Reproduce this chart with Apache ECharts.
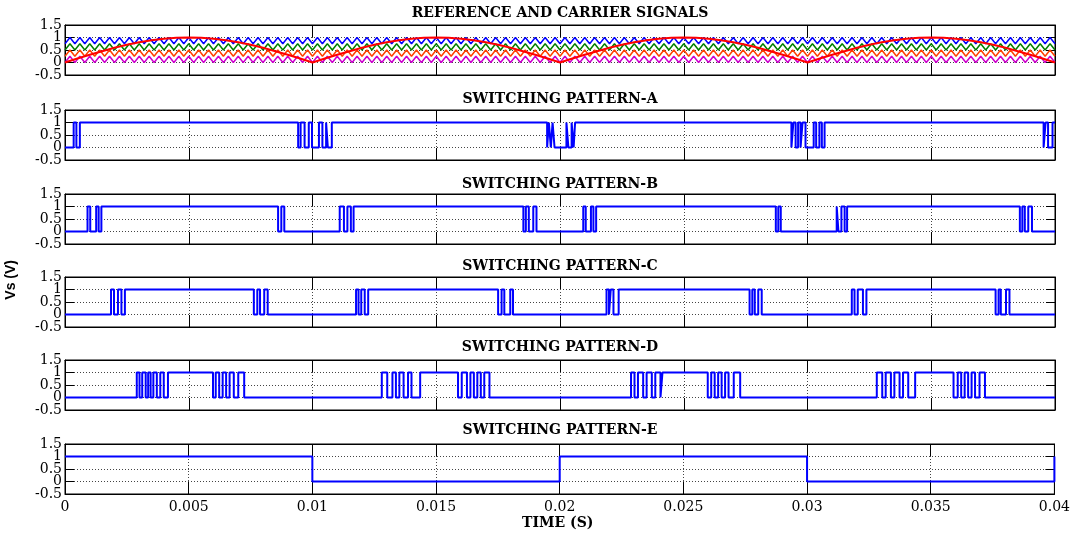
<!DOCTYPE html>
<html>
<head>
<meta charset="utf-8">
<script src="https://cdn.jsdelivr.net/npm/echarts@6/dist/echarts.min.js"></script>
<style>
  html, body { margin: 0; padding: 0; background: #fff; }
  #main { width: 1073px; height: 539px; }
</style>
</head>
<body>
<div id="main"></div>
<script>
// time in ms, x axis labelled in seconds
const timeTicksMs = [0, 5, 10, 15, 20, 25, 30, 35, 40];
const yTicks = [-0.5, 0, 0.5, 1, 1.5];

const panelTitles = [
  "REFERENCE AND CARRIER SIGNALS",
  "SWITCHING PATTERN-A",
  "SWITCHING PATTERN-B",
  "SWITCHING PATTERN-C",
  "SWITCHING PATTERN-D",
  "SWITCHING PATTERN-E",
];

// reference signal, sampled every 0.5 ms
const refStepMs = 0.5;
const refValues = [
  0, 0.16, 0.31, 0.45, 0.59, 0.71, 0.81, 0.89, 0.95, 0.99, 1, 0.99, 0.95, 0.89, 0.81, 0.71, 0.59, 0.45, 0.31, 0.16,
  0, 0.16, 0.31, 0.45, 0.59, 0.71, 0.81, 0.89, 0.95, 0.99, 1, 0.99, 0.95, 0.89, 0.81, 0.71, 0.59, 0.45, 0.31, 0.16,
  0, 0.16, 0.31, 0.45, 0.59, 0.71, 0.81, 0.89, 0.95, 0.99, 1, 0.99, 0.95, 0.89, 0.81, 0.71, 0.59, 0.45, 0.31, 0.16,
  0, 0.16, 0.31, 0.45, 0.59, 0.71, 0.81, 0.89, 0.95, 0.99, 1, 0.99, 0.95, 0.89, 0.81, 0.71, 0.59, 0.45, 0.31, 0.16,
  0,
];

// carrier vertices (ms), alternating low / high
const carrierTimesMs = [
  0, 0.2, 0.4, 0.6, 0.8, 1, 1.2, 1.4, 1.6, 1.8,
  2, 2.2, 2.4, 2.6, 2.8, 3, 3.2, 3.4, 3.6, 3.8,
  4, 4.2, 4.4, 4.6, 4.8, 5, 5.2, 5.4, 5.6, 5.8,
  6, 6.2, 6.4, 6.6, 6.8, 7, 7.2, 7.4, 7.6, 7.8,
  8, 8.2, 8.4, 8.6, 8.8, 9, 9.2, 9.4, 9.6, 9.8,
  10, 10.2, 10.4, 10.6, 10.8, 11, 11.2, 11.4, 11.6, 11.8,
  12, 12.2, 12.4, 12.6, 12.8, 13, 13.2, 13.4, 13.6, 13.8,
  14, 14.2, 14.4, 14.6, 14.8, 15, 15.2, 15.4, 15.6, 15.8,
  16, 16.2, 16.4, 16.6, 16.8, 17, 17.2, 17.4, 17.6, 17.8,
  18, 18.2, 18.4, 18.6, 18.8, 19, 19.2, 19.4, 19.6, 19.8,
  20, 20.2, 20.4, 20.6, 20.8, 21, 21.2, 21.4, 21.6, 21.8,
  22, 22.2, 22.4, 22.6, 22.8, 23, 23.2, 23.4, 23.6, 23.8,
  24, 24.2, 24.4, 24.6, 24.8, 25, 25.2, 25.4, 25.6, 25.8,
  26, 26.2, 26.4, 26.6, 26.8, 27, 27.2, 27.4, 27.6, 27.8,
  28, 28.2, 28.4, 28.6, 28.8, 29, 29.2, 29.4, 29.6, 29.8,
  30, 30.2, 30.4, 30.6, 30.8, 31, 31.2, 31.4, 31.6, 31.8,
  32, 32.2, 32.4, 32.6, 32.8, 33, 33.2, 33.4, 33.6, 33.8,
  34, 34.2, 34.4, 34.6, 34.8, 35, 35.2, 35.4, 35.6, 35.8,
  36, 36.2, 36.4, 36.6, 36.8, 37, 37.2, 37.4, 37.6, 37.8,
  38, 38.2, 38.4, 38.6, 38.8, 39, 39.2, 39.4, 39.6, 39.8,
  40,
];
const carrierNames = ["C1", "C2", "C3", "C4"];
const carrierLow = [0.75, 0.5, 0.25, 0];
const carrierHigh = [1, 0.75, 0.5, 0.25];
const carrierColors = ["#0000ff", "#008000", "#ff4000", "#cc00cc"];

// switching instants (ms); level toggles at each one
const patternStart = [0, 0, 0, 0, 1];
const patternA = [
  0.35, 0.46, 0.6,
  9.42, 9.52, 9.68, 9.85, 9.98, 10.26, 10.4, 10.55, 10.62, 10.78,
  19.48, 19.55, 19.63, 19.7, 19.78, 20.26, 20.34, 20.47, 20.55, 20.61,
  29.35, 29.43, 29.52, 29.62, 29.72, 29.8, 29.92, 30.25, 30.35, 30.48, 30.58, 30.69,
  39.54, 39.62, 39.72, 39.9,
];
const patternB = [
  0.91, 1.02, 1.26, 1.36, 1.47,
  8.61, 8.74, 8.86,
  11.1, 11.27, 11.41, 11.55, 11.66,
  18.52, 18.62, 18.74, 18.92, 19.05,
  20.94, 21.04, 21.25, 21.35, 21.46,
  28.72, 28.82, 28.92,
  31.18, 31.25, 31.37, 31.5, 31.6,
  38.58, 38.68, 38.78, 38.92, 39.07,
];
const patternC = [
  1.86, 1.98, 2.14, 2.28, 2.42,
  7.63, 7.77, 7.88, 8.05, 8.19,
  11.76, 11.86, 11.97, 12.11, 12.25,
  17.5, 17.64, 17.75, 17.99, 18.1,
  21.88, 21.98, 22.05, 22.16, 22.37,
  27.66, 27.77, 27.87, 28.01, 28.15,
  31.79, 31.9, 32.03, 32.24, 32.38,
  37.6, 37.72, 37.81, 38.02, 38.16,
];
const patternD = [
  2.9, 3.01, 3.12, 3.26, 3.36, 3.46, 3.57, 3.71, 3.85, 3.99, 4.16,
  5.98, 6.09, 6.23, 6.37, 6.51, 6.65, 6.82, 7.0, 7.24,
  12.8, 13.02, 13.23, 13.37, 13.51, 13.68, 13.86, 14.0, 14.35,
  15.88, 16.03, 16.24, 16.38, 16.52, 16.66, 16.8, 16.94, 17.15,
  22.87, 23.01, 23.15, 23.36, 23.5, 23.71, 23.85, 24.06, 24.14,
  25.97, 26.11, 26.25, 26.39, 26.53, 26.67, 26.81, 27.02, 27.28,
  32.8, 33.02, 33.16, 33.37, 33.51, 33.72, 33.86, 34.07, 34.35,
  35.9, 36.07, 36.21, 36.35, 36.49, 36.63, 36.77, 36.95, 37.17,
];
const patternE = [10, 20, 30, 40];
const patterns = [patternA, patternB, patternC, patternD, patternE];

const chart = echarts.init(document.getElementById("main"));

const plotLeft = 65;
const plotRight = 18;
const gridTops = [25, 110, 194, 277, 360, 444];
const gridHeight = 50;
const titleCenters = [14, 100, 185, 267, 348, 431];

const serif = "DejaVu Serif";
const dotted = { color: "#444", width: 1, type: [1, 2] };
const yLabelStyle = { show: true, margin: 3, color: "#000", fontFamily: serif, fontSize: 14 };

function stepData(start, times) {
  const pts = [[0, start]];
  let v = start;
  times.forEach((t) => {
    v = 1 - v;
    pts.push([t, v]);
  });
  if (times[times.length - 1] < 40) pts.push([40, v]);
  return pts;
}

const grids = [];
const xAxes = [];
const yAxes = [];
const titles = [];
const mainX = [];
const mainY = [];
const noLine = { show: false };

gridTops.forEach((top, i) => {
  const last = i === gridTops.length - 1;
  const g = grids.length;
  grids.push({
    left: plotLeft, right: plotRight, top: top, height: gridHeight,
    show: true, borderColor: "#000", borderWidth: 1, backgroundColor: "#fff",
  });
  // helper grid, half a unit taller on each side, only used for the 0 / 1 labels
  const gAux = grids.length;
  grids.push({ left: plotLeft, right: plotRight, top: top - gridHeight / 4, height: gridHeight * 1.5 });

  const xBase = {
    type: "value", gridIndex: g, min: 0, max: 40, interval: 5,
    axisLine: { show: true, onZero: false, lineStyle: { color: "#000", width: 1 } },
    axisTick: { show: true, inside: true, length: 12, lineStyle: { color: "#000" } },
  };
  mainX.push(xAxes.length);
  xAxes.push(Object.assign({}, xBase, {
    position: "bottom",
    splitLine: { show: true, lineStyle: dotted },
    axisLabel: {
      show: last, margin: 6, color: "#000", fontFamily: serif, fontSize: 14,
      showMinLabel: true, showMaxLabel: true,
      formatter: (v) => String(+(v / 1000).toFixed(3)),
    },
  }));
  xAxes.push(Object.assign({}, xBase, {
    position: "top", splitLine: noLine, axisLabel: noLine,
  }));
  xAxes.push({ type: "value", gridIndex: gAux, min: 0, max: 40, show: false });

  const yBase = {
    type: "value", gridIndex: g, min: -0.5, max: 1.5, interval: 0.5,
    axisLine: { show: true, onZero: false, lineStyle: { color: "#000", width: 1 } },
    axisTick: { show: true, inside: true, length: 9, lineStyle: { color: "#000" } },
  };
  mainY.push(yAxes.length);
  yAxes.push(Object.assign({}, yBase, {
    position: "left",
    splitLine: { show: true, lineStyle: dotted },
    axisLabel: noLine,
  }));
  yAxes.push(Object.assign({}, yBase, {
    position: "right", splitLine: noLine, axisLabel: noLine,
  }));
  // labels -0.5, 0.5, 1.5
  yAxes.push({
    type: "value", gridIndex: g, position: "left", min: -0.5, max: 1.5, interval: 1,
    axisLine: noLine, axisTick: noLine, splitLine: noLine,
    axisLabel: Object.assign({}, yLabelStyle, { showMinLabel: true, showMaxLabel: true }),
  });
  // labels 0, 1
  yAxes.push({
    type: "value", gridIndex: gAux, position: "left", min: -1, max: 2, interval: 1,
    axisLine: noLine, axisTick: noLine, splitLine: noLine,
    axisLabel: Object.assign({}, yLabelStyle, { showMinLabel: false, showMaxLabel: false }),
  });

  titles.push({
    text: panelTitles[i],
    left: 560, top: titleCenters[i] - 8, padding: 0,
    textAlign: "center",
    textStyle: { fontFamily: serif, fontWeight: "bold", fontSize: 14, color: "#000" },
  });
});

const series = [];
carrierNames.forEach((name, c) => {
  series.push({
    name: name, type: "line", xAxisIndex: mainX[0], yAxisIndex: mainY[0],
    data: carrierTimesMs.map((t, k) => [t, k % 2 === 0 ? carrierLow[c] : carrierHigh[c]]),
    showSymbol: false, symbol: "none",
    lineStyle: { color: carrierColors[c], width: 1.5 },
  });
});
series.push({
  name: "Reference", type: "line", xAxisIndex: mainX[0], yAxisIndex: mainY[0],
  data: refValues.map((v, k) => [k * refStepMs, v]),
  showSymbol: false, symbol: "none",
  lineStyle: { color: "#ff0000", width: 2 },
});
patterns.forEach((p, i) => {
  series.push({
    name: panelTitles[i + 1], type: "line",
    xAxisIndex: mainX[i + 1], yAxisIndex: mainY[i + 1],
    data: stepData(patternStart[i], p), step: "end",
    showSymbol: false, symbol: "none",
    lineStyle: { color: "#0000ff", width: 2 },
  });
});

chart.setOption({
  animation: false,
  backgroundColor: "#fff",
  title: titles,
  grid: grids,
  xAxis: xAxes,
  yAxis: yAxes,
  series: series,
  graphic: [
    {
      type: "text", left: 4, top: 260, rotation: Math.PI / 2,
      style: { text: "Vs (V)", font: "bold 14px 'Liberation Sans'", fill: "#000" },
    },
    {
      type: "text", left: 522, top: 516,
      style: { text: "TIME (S)", font: "bold 14px 'DejaVu Serif'", fill: "#000" },
    },
  ],
});
</script>
</body>
</html>
